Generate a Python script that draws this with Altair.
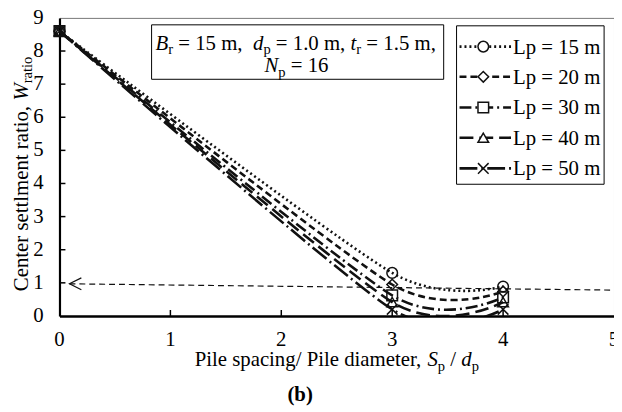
import altair as alt
import pandas as pd

FONT = "Liberation Serif"

# ---------------- data ----------------
x_vals = [0, 3, 4]
series_labels = ["Lp = 15 m", "Lp = 20 m", "Lp = 30 m", "Lp = 40 m", "Lp = 50 m"]
lp15 = [8.6, 1.30, 0.89]
lp20 = [8.6, 0.95, 0.74]
lp30 = [8.6, 0.62, 0.56]
lp40 = [8.6, 0.42, 0.42]
lp50 = [8.6, 0.20, 0.20]
series_values = [lp15, lp20, lp30, lp40, lp50]

x_ticks = [0, 1, 2, 3, 4, 5]
y_ticks = [0, 1, 2, 3, 4, 5, 6, 7, 8, 9]
inner_x_ticks = [1, 2, 3, 4]
inner_y_ticks = [1, 2, 3, 4, 5, 6, 7, 8]

arrow_x = [0.09, 5.0]
arrow_y = [0.97, 0.78]

# ---------------- styles ----------------
dashes = [[2, 3], [7, 4], [12, 4, 2, 4], [14, 6], [18, 4, 2, 4]]
shapes = ["circle", "diamond", "square", "triangle-up", "M-1,-1L1,1M-1,1L1,-1"]

W, H = 560, 301
TOP = 8

rows = []
for lab, vals in zip(series_labels, series_values):
    for xv, yv in zip(x_vals, vals):
        rows.append({"x": xv, "y": yv, "Lp": lab})
df = pd.DataFrame(rows)

xscale = alt.Scale(domain=[0, 5], nice=False, zero=False)
yscale = alt.Scale(domain=[0, 9], nice=False, zero=False)

XAX = alt.Axis(values=x_ticks, labels=False, title="", domainWidth=2.5,
               grid=False, ticks=False, domainColor="black")
YAX = alt.Axis(values=y_ticks, labels=False, title="", domainWidth=2.2,
               grid=False, ticks=False, domainColor="black")


def X(field):
    return alt.X(field, scale=xscale, axis=XAX, title="")


def Y(field):
    return alt.Y(field, scale=yscale, axis=YAX, title="")


base = alt.Chart(df)
lines = base.mark_line(interpolate="cardinal", tension=0.3, strokeWidth=2.6,
                       color="#111", clip=True).encode(
    x=X("x:Q"),
    y=Y("y:Q"),
    strokeDash=alt.StrokeDash("Lp:N", scale=alt.Scale(domain=series_labels, range=dashes),
                              legend=None),
    detail="Lp:N",
)
points = base.mark_point(filled=False, size=115, strokeWidth=1.5, color="#111",
                         opacity=1).encode(
    x=X("x:Q"),
    y=Y("y:Q"),
    shape=alt.Shape("Lp:N", scale=alt.Scale(domain=series_labels, range=shapes), legend=None),
)

# inward ticks
xt = alt.Chart(pd.DataFrame({"x": inner_x_ticks})).mark_rule(color="black", strokeWidth=1.5).encode(
    x=X("x:Q"), y=alt.value(H), y2=alt.value(H - 6))
yt = alt.Chart(pd.DataFrame({"y": inner_y_ticks})).mark_rule(color="black", strokeWidth=1.5).encode(
    y=Y("y:Q"), x=alt.value(0), x2=alt.value(6))

# tick labels (drawn through the scales)
xl = alt.Chart(pd.DataFrame({"x": x_ticks, "t": [str(v) for v in x_ticks]})).mark_text(
    align="center", baseline="alphabetic", font=FONT, fontSize=21, color="black").encode(
    x=X("x:Q"), y=alt.value(H + 30), text="t:N")
yl = alt.Chart(pd.DataFrame({"y": y_ticks, "t": [str(v) for v in y_ticks]})).mark_text(
    align="right", baseline="middle", font=FONT, fontSize=21, color="black").encode(
    y=Y("y:Q"), x=alt.value(-16), text="t:N")

# arrow
adf = pd.DataFrame({"x": arrow_x, "y": arrow_y})
arrow_line = alt.Chart(adf).mark_line(strokeDash=[6, 4], strokeWidth=1.2, color="#111").encode(
    x=X("x:Q"), y=Y("y:Q"))
arrow_head = alt.Chart(adf.iloc[[0]]).mark_point(
    shape="M1,-0.5L0,0L1,0.5", filled=False, size=576, strokeWidth=1.2, color="#111",
    opacity=1).encode(x=X("x:Q"), y=Y("y:Q"))

one = pd.DataFrame({"a": [0]})
oy = 14 - (8 + TOP)  # offset so annotations keep their page position


def box(x1, x2, y1, y2):
    return alt.Chart(one).mark_rect(fill="white", stroke="black", strokeWidth=1).encode(
        x=alt.value(x1), x2=alt.value(x2), y=alt.value(y1 + oy), y2=alt.value(y2 + oy))


ann_box = box(93, 388, 9, 64)
leg_box = box(401, 550, 10, 170)

# text metrics (Times-compatible)
ROMAN = {' ': 250, ',': 250, '.': 250, '/': 278, '=': 564, 'B': 667, 'C': 667, 'L': 611,
         'N': 722, 'P': 556, 'S': 556, 'W': 944, 'a': 444, 'c': 444, 'd': 500, 'e': 444,
         'g': 500, 'i': 278, 'l': 278, 'm': 778, 'n': 500, 'o': 500, 'p': 500, 'r': 333,
         's': 389, 't': 278}
ITALIC = {'B': 611, 'N': 667, 'S': 500, 'W': 833, 'd': 500, 't': 278}


def place(parts, x0, y0, size, vertical=False):
    out = []
    pos = 0.0
    for text, kind in parts:
        fs = size * 0.7 if kind == "s" else size
        table = ITALIC if kind == "i" else ROMAN
        lead = len(text) - len(text.lstrip(" "))
        w_lead = lead * 250 * fs / 1000
        stripped = text.strip(" ")
        if stripped:
            shift = size * 0.2 if kind == "s" else 0
            if vertical:
                out.append(dict(x=x0 + shift, y=y0 - pos - w_lead, t=stripped, fs=fs, kind=kind))
            else:
                out.append(dict(x=x0 + pos + w_lead, y=y0 + shift, t=stripped, fs=fs, kind=kind))
        pos += sum(table.get(c, 500) for c in text) * fs / 1000
    return out


def text_layers(segs, angle=0, weight="normal"):
    res = []
    for s in segs:
        kw = dict(text=s["t"], align="left", baseline="alphabetic", font=FONT,
                  fontSize=s["fs"], fontStyle="italic" if s["kind"] == "i" else "normal",
                  fontWeight=weight, color="black")
        if angle:
            kw["angle"] = angle
        res.append(alt.Chart(one).mark_text(**kw).encode(
            x=alt.value(s["x"]), y=alt.value(s["y"])))
    return res


segs = []
segs += text_layers(place([("B", "i"), ("r", "s"), (" = 15 m,  ", "n"), ("d", "i"), ("p", "s"),
                           (" = 1.0 m, ", "n"), ("t", "i"), ("r", "s"), (" = 1.5 m,", "n")],
                          97, 34 + oy, 21))
segs += text_layers(place([("N", "i"), ("p", "s"), (" = 16", "n")], 207, 57 + oy, 21))
segs += text_layers(place([("Pile spacing/ Pile diameter, ", "n"), ("S", "i"), ("p", "s"),
                           (" / ", "n"), ("d", "i"), ("p", "s")], 136.5, 354 + oy, 21))
segs += text_layers(place([("Center settlment ratio, ", "n"), ("W", "i"), ("ratio", "s")],
                          -32, 278 + oy, 21, vertical=True), angle=270)
bold = alt.Chart(one).mark_text(text="(b)", align="center", baseline="alphabetic", font=FONT,
                                fontSize=21, fontWeight="bold", color="black").encode(
    x=alt.value(243), y=alt.value(389 + oy))

# legend
leg_layers = []
row_y = [31, 61.5, 92.5, 123, 154]
for lab, dsh, shp, ry in zip(series_labels, dashes, shapes, row_y):
    ry = ry + oy
    leg_layers.append(alt.Chart(one).mark_rule(strokeDash=dsh, strokeWidth=2.6, color="#111").encode(
        x=alt.value(404), x2=alt.value(456), y=alt.value(ry)))
    leg_layers.append(alt.Chart(one).mark_point(shape=shp, filled=True, fill="white", size=115,
                                                strokeWidth=1.5, stroke="#111", opacity=1).encode(
        x=alt.value(428), y=alt.value(ry)))
    leg_layers.append(alt.Chart(one).mark_text(text=lab, align="left", baseline="alphabetic",
                                               font=FONT, fontSize=21, color="black").encode(
        x=alt.value(458), y=alt.value(ry + 7)))

chart = alt.layer(
    lines, points, xt, yt, xl, yl, arrow_line, arrow_head, ann_box, leg_box, *segs, bold,
    *leg_layers
).properties(
    width=W, height=H, autosize="none",
    padding={"left": 52, "top": TOP, "right": 0, "bottom": 95},
    background="white",
).configure_view(stroke="#777", strokeWidth=1)

chart.save("out.html", embed_options={"renderer": "svg", "actions": False})
